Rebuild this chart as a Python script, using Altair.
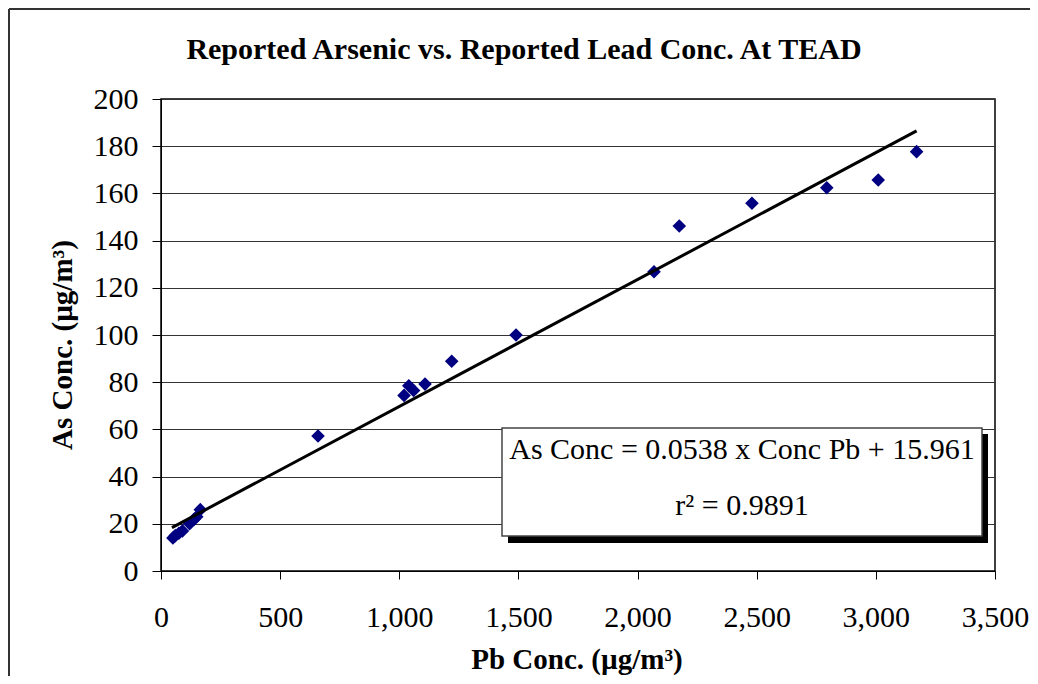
import altair as alt
import pandas as pd

# Reported data
pb = [50, 60, 75, 90, 120, 140, 150, 165, 659, 1020, 1040, 1060, 1108, 1220,
      1490, 2069, 2175, 2480, 2794, 3010, 3171]
as_ = [14, 15, 16, 17, 20, 22, 23, 26, 57.2, 74.4, 78.5, 76.5, 79.2, 88.9,
       100, 126.8, 146.2, 155.8, 162.4, 165.7, 177.7]

# Trend line end points
line_pb = [46, 3171]
line_as = [18.4, 186.5]

x_ticks = [0, 500, 1000, 1500, 2000, 2500, 3000, 3500]
y_ticks = [0, 20, 40, 60, 80, 100, 120, 140, 160, 180, 200]

title_text = "Reported Arsenic vs. Reported Lead Conc. At TEAD"
x_title = "Pb Conc. (µg/m³)"
y_title = "As Conc. (µg/m³)"
eq_line1 = "As Conc = 0.0538 x Conc Pb + 15.961"
eq_line2 = "r² = 0.9891"

FONT = "Liberation Serif"

pts = pd.DataFrame({"Pb": pb, "As": as_})
ln = pd.DataFrame({"Pb": line_pb, "As": line_as})

W, H = 834, 472

xs = alt.Scale(domain=[0, 3500], nice=False, zero=True)
ys = alt.Scale(domain=[0, 200], nice=False)

base_x = alt.X("Pb:Q", scale=xs,
               axis=alt.Axis(values=x_ticks, format=",.0f", title=None, grid=False,
                             labelFont=FONT, labelFontSize=30, labelColor="black",
                             tickColor="black", tickSize=8, labelPadding=23,
                             domainColor="black", labelFlush=False))
base_y = alt.Y("As:Q", scale=ys,
               axis=alt.Axis(values=y_ticks, title=None, grid=True,
                             gridColor="#333333", gridWidth=1,
                             labelFont=FONT, labelFontSize=30, labelColor="black",
                             tickColor="black", tickSize=9, labelPadding=14,
                             domainColor="black"))

one = pd.DataFrame({"a": [0]})

frame_left = alt.Chart(one).mark_rule(color="#333333", strokeWidth=2).encode(
    x=alt.value(-152), y=alt.value(-90), y2=alt.value(H + 300))
frame_top = alt.Chart(one).mark_rule(color="#333333", strokeWidth=2).encode(
    x=alt.value(-152), x2=alt.value(W + 300), y=alt.value(-90))

points = alt.Chart(pts).mark_point(shape="diamond", filled=True, color="#000080",
                                   size=185, opacity=1).encode(x=base_x, y=base_y)

trend = alt.Chart(ln).mark_line(color="black", strokeWidth=3).encode(
    x=alt.X("Pb:Q", scale=xs), y=alt.Y("As:Q", scale=ys))

shadow = alt.Chart(one).mark_rect(fill="black").encode(
    x=alt.value(347), x2=alt.value(827), y=alt.value(335), y2=alt.value(444))
box = alt.Chart(one).mark_rect(fill="white", stroke="#444444", strokeWidth=1.5).encode(
    x=alt.value(341), x2=alt.value(821), y=alt.value(329), y2=alt.value(437))
t1 = alt.Chart(one).mark_text(font=FONT, fontSize=30, color="black",
                              align="center", baseline="alphabetic").encode(
    x=alt.value(581), y=alt.value(360), text=alt.value(eq_line1))
t2 = alt.Chart(one).mark_text(font=FONT, fontSize=30, color="black",
                              align="center", baseline="alphabetic").encode(
    x=alt.value(581), y=alt.value(416), text=alt.value(eq_line2))

ttl = alt.Chart(one).mark_text(font=FONT, fontSize=30, fontWeight="bold", color="black",
                               align="center", baseline="middle").encode(
    x=alt.value(363), y=alt.value(-49), text=alt.value(title_text))
xt = alt.Chart(one).mark_text(font=FONT, fontSize=29, fontWeight="bold", color="black",
                              align="center", baseline="alphabetic").encode(
    x=alt.value(416), y=alt.value(570), text=alt.value(x_title))
yt = alt.Chart(one).mark_text(font=FONT, fontSize=29, fontWeight="bold", color="black",
                              align="center", baseline="middle", angle=270).encode(
    x=alt.value(-98), y=alt.value(246), text=alt.value(y_title))

chart = alt.layer(frame_left, frame_top, points, trend, shadow, box, t1, t2,
                  ttl, xt, yt).properties(
    width=W, height=H,
    autosize=alt.AutoSizeParams(type="none"),
    padding={"left": 153, "top": 91, "right": 35, "bottom": 105},
    background="white",
).configure_view(stroke="black", strokeWidth=1.5)

chart.save("out.html", embed_options={"renderer": "svg", "actions": False})
